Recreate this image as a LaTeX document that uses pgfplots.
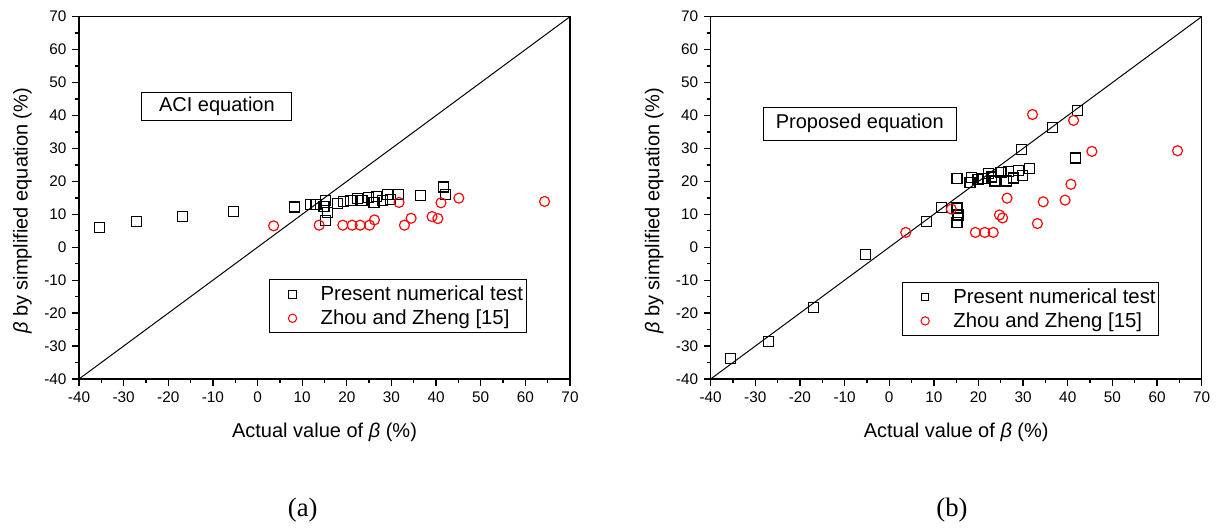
\documentclass[border=0pt]{standalone}
\usepackage{fontspec}
\setmainfont{Liberation Sans}
\newfontfamily\seriffont{Liberation Serif}
\usepackage{pgfplots}
\pgfplotsset{compat=1.18}

\pgfplotsset{myax/.style={
  scale only axis, width=294.6pt, height=217.4pt,
  xmin=-40,xmax=70,ymin=-40,ymax=70,
  xtick={-40,-30,...,70}, ytick={-40,-30,...,70},
  minor x tick num=1, minor y tick num=1,
  tick align=outside, xtick pos=left, ytick pos=left,
  major tick length=4pt, minor tick length=2.4pt,
  axis line style={line width=0.8pt},
  every tick/.style={black,line width=0.8pt},
  ticklabel style={font=\fontsize{9.2}{10}\selectfont},
  /pgf/number format/assume math mode=true,
  label style={font=\fontsize{12}{14}\selectfont},
  xlabel={Actual value of \textit{β} (\%)},
  ylabel={\textit{β} by simplified equation (\%)},
  xlabel style={at={(axis description cs:0.5,-0.146)},anchor=center},
  ylabel style={at={(axis description cs:-0.115,0.464)},anchor=center},
  legend style={at={(0.912,0.2753)}, anchor=north east, draw=black, line width=0.6pt,
     font=\fontsize{12.2}{14}\selectfont, cells={anchor=west}, inner xsep=0pt, inner ysep=1.6pt,
     row sep=0pt},
  legend image code/.code={\path (0pt,0pt) (28pt,0pt); \draw[##1] plot coordinates {(13.4pt,0pt)};},
  sq/.style={only marks, mark=square, mark size=3pt, black, mark options={line width=0.7pt},
     legend image post style={mark size=2.2pt, mark options={line width=0.6pt}}},
  ci/.style={only marks, mark=o, mark size=3pt, red, mark options={line width=0.7pt},
     legend image post style={mark size=2.5pt, mark options={line width=0.6pt}}},
}}

\begin{document}
\begin{tikzpicture}
\useasboundingbox (0pt,0pt) rectangle (730.8pt,-317.4pt);

% ---------------- (a)
\begin{axis}[myax, at={(47.4pt,-227.4pt)}, anchor=south west]
\addplot[sq] coordinates {
(-35.5,6.0) (-27.1,7.7) (-16.8,9.3) (-5.4,10.8) (8.3,12.2) (11.8,12.9) (13.1,12.9)
(14.9,12.3) (15.2,14.3) (15.7,10.5) (15.2,8.2) (18.0,13.3) (19.3,13.8) (20.8,14.1)
(22.3,14.9) (23.4,14.1) (24.9,15.1) (26.1,13.6) (26.7,15.4) (27.9,14.1) (29.1,15.9)
(29.7,14.6) (31.6,16.1) (36.5,15.8) (41.7,18.3) (42.1,16.1)};
\addlegendentry{Present numerical test}
\addplot[ci] coordinates {
(3.6,6.5) (13.8,6.7) (19.1,6.7) (21.2,6.7) (23.0,6.7) (25.1,6.7) (26.2,8.3)
(31.7,13.6) (32.9,6.7) (34.4,8.8) (39.1,9.3) (40.4,8.7) (41.1,13.5) (45.1,14.9) (64.3,13.9)};
\addlegendentry{Zhou and Zheng [15]}
\addplot[black, line width=0.6pt, forget plot] coordinates {(-40,-40) (70,70)};
\node[draw=black, line width=0.6pt, minimum width=90pt, minimum height=17pt, inner sep=0pt,
  font=\fontsize{12}{14}\selectfont] at (axis cs:-9.1,42.8) {ACI equation};
\end{axis}

% ---------------- (b)
\begin{axis}[myax, at={(426.4pt,-227.4pt)}, anchor=south west,
  legend style={at={(0.914,0.268)}}]
\addplot[sq] coordinates {
(-35.5,-33.9) (-27.0,-28.5) (-16.9,-18.2) (-5.3,-2.3) (8.3,7.8) (11.8,12.1) (15.2,11.9)
(15.4,9.8) (15.2,7.5) (15.2,20.9) (18.1,19.6) (18.4,21.1) (19.9,20.6) (21.0,20.9)
(22.2,22.3) (23.0,21.3) (23.7,20.1) (25.0,22.6) (25.2,22.8) (26.2,20.1) (26.7,22.9)
(27.8,21.1) (27.9,20.8) (29.0,23.4) (29.9,21.9) (31.5,23.8) (29.7,29.7) (36.6,36.4)
(41.7,27.1) (42.2,41.6)};
\addlegendentry{Present numerical test}
\addplot[ci] coordinates {
(3.7,4.5) (13.9,11.6) (19.3,4.5) (21.4,4.5) (23.3,4.5) (24.7,9.8) (25.4,8.9) (26.4,14.9)
(32.1,40.3) (33.2,7.2) (34.5,13.8) (39.4,14.3) (40.7,19.1) (41.3,38.5) (45.4,29.1) (64.6,29.3)};
\addlegendentry{Zhou and Zheng [15]}
\addplot[black, line width=0.6pt, forget plot] coordinates {(-40,-40) (70,70)};
\node[draw=black, line width=0.6pt, minimum width=115.8pt, minimum height=19.8pt, inner sep=0pt,
  font=\fontsize{12}{14}\selectfont] at (axis cs:-6.6,37.5) {Proposed equation};
\end{axis}

\node[font=\seriffont\fontsize{16}{18}\selectfont] at (181.6pt,-306pt) {(a)};
\node[font=\seriffont\fontsize{16}{18}\selectfont] at (571.2pt,-306pt) {(b)};
\end{tikzpicture}
\end{document}
